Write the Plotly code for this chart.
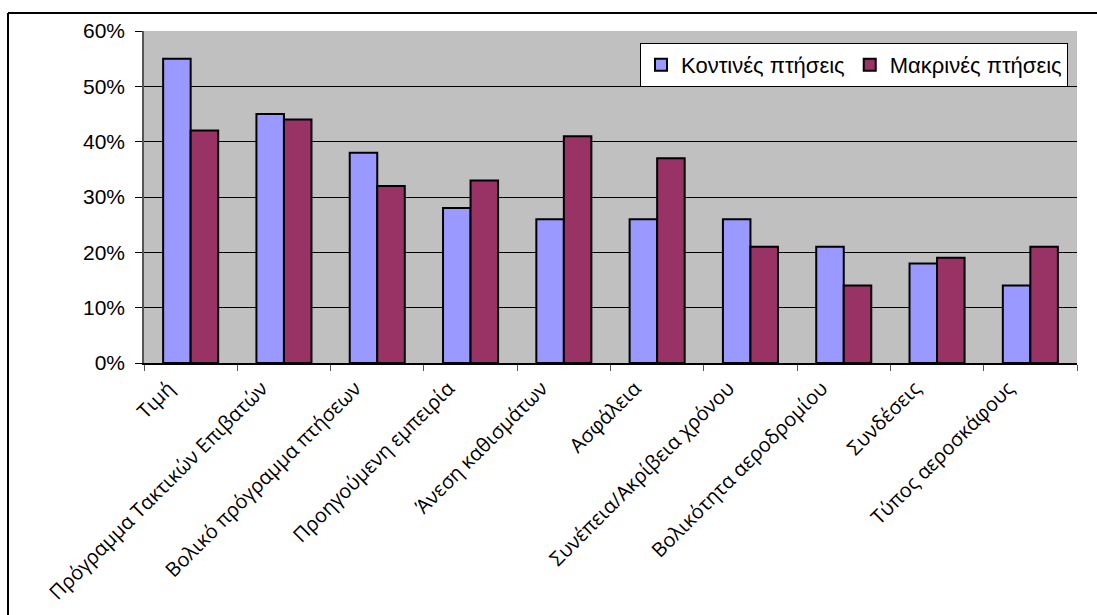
import plotly.graph_objects as go

# Reasons for choosing an airline, short-haul vs long-haul flights (share of respondents)
categories = [
    "Τιμή",
    "Πρόγραμμα Τακτικών Επιβατών",
    "Βολικό πρόγραμμα πτήσεων",
    "Προηγούμενη εμπειρία",
    "Άνεση καθισμάτων",
    "Ασφάλεια",
    "Συνέπεια/Ακρίβεια χρόνου",
    "Βολικότητα αεροδρομίου",
    "Συνδέσεις",
    "Τύπος αεροσκάφους",
]
short_haul = [0.55, 0.45, 0.38, 0.28, 0.26, 0.26, 0.26, 0.21, 0.18, 0.14]
long_haul = [0.42, 0.44, 0.32, 0.33, 0.41, 0.37, 0.21, 0.14, 0.19, 0.21]

W, H = 1097, 615
L, R, T, B = 144, 20, 31, 252
pw, ph = W - L - R, H - T - B


def px_x(x):
    return (x - L) / pw


def px_y(y):
    return (H - B - y) / ph


fig = go.Figure()
fig.add_trace(go.Bar(
    x=categories, y=short_haul, name="Κοντινές πτήσεις",
    marker=dict(color="#9999FF", line=dict(color="black", width=2)),
))
fig.add_trace(go.Bar(
    x=categories, y=long_haul, name="Μακρινές πτήσεις",
    marker=dict(color="#993366", line=dict(color="black", width=2)),
))

# outer chart frame (top and left edges)
frame = dict(color="black", width=2)
fig.add_shape(type="line", xref="paper", yref="paper",
              x0=px_x(8), x1=px_x(W + 5), y0=px_y(13), y1=px_y(13), line=frame)
fig.add_shape(type="line", xref="paper", yref="paper",
              x0=px_x(8), x1=px_x(8), y0=px_y(13), y1=px_y(H + 5), line=frame)

fig.update_layout(
    width=W, height=H,
    margin=dict(l=L, r=R, t=T, b=B, autoexpand=False),
    paper_bgcolor="white",
    plot_bgcolor="#C0C0C0",
    barmode="group",
    bargap=0.41,
    bargroupgap=0.0,
    font=dict(family="Liberation Sans, Arial, sans-serif", color="black", size=18),
    legend=dict(
        orientation="h",
        x=px_x(1068), xanchor="right",
        y=px_y(43), yanchor="top",
        bgcolor="white", bordercolor="black", borderwidth=1,
        font=dict(size=22),
        itemwidth=30,
        traceorder="normal",
    ),
    showlegend=True,
)

fig.update_xaxes(
    tickangle=-45,
    tickson="boundaries",
    ticks="outside", ticklen=6, tickcolor="#555555",
    showline=True, linecolor="black", linewidth=1.5,
    showgrid=False,
    ticklabelshift=-22,
    ticklabelstandoff=4,
    tickfont=dict(family="Open Sans, Noto Sans, sans-serif", size=20),
)
fig.update_yaxes(
    range=[0, 0.6],
    dtick=0.1,
    tickformat=".0%",
    ticks="outside", ticklen=7, tickcolor="black",
    showline=True, linecolor="#555555", linewidth=1.5,
    showgrid=True, gridcolor="black", gridwidth=1,
    zeroline=False,
    ticklabelstandoff=6,
    tickfont=dict(size=21),
)

fig.write_html("out.html")
